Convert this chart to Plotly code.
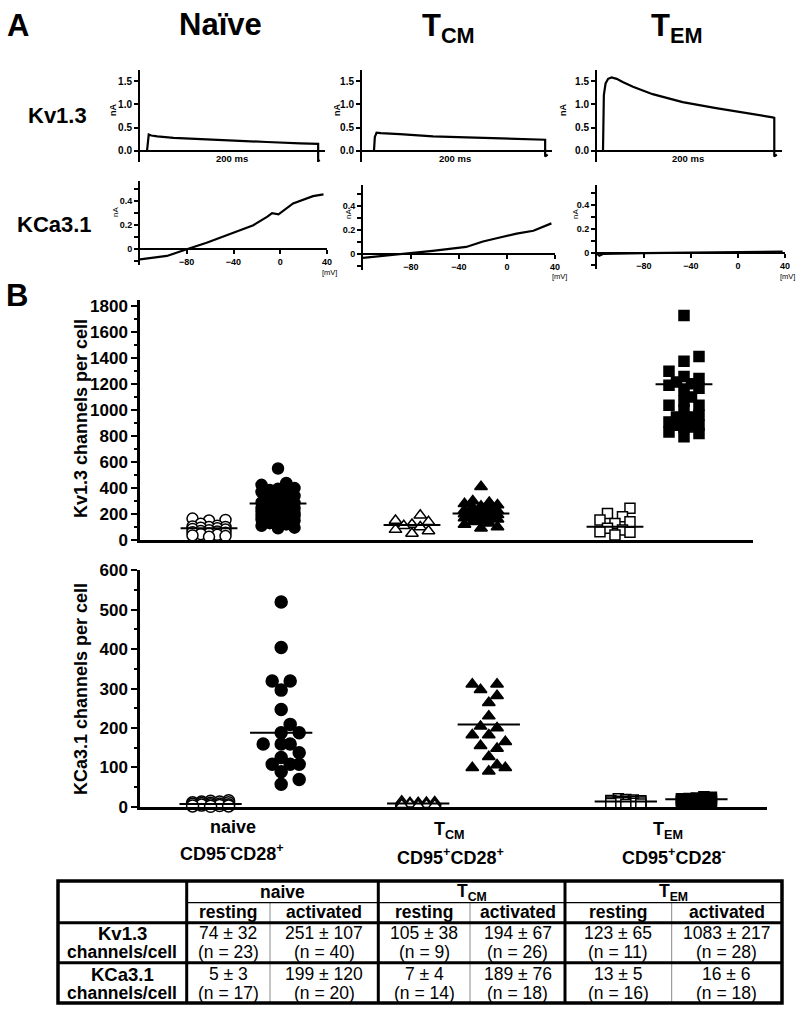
import plotly.graph_objects as go

# ---------------- DATA ----------------
# Panel A: Kv1.3 current traces (time in ms, current in nA)
kv_naive_t = [0, 1, 2, 5, 12, 31, 62, 101, 140, 179, 200, 200, 202]
kv_naive_i = [0, 0.28, 0.35, 0.33, 0.31, 0.28, 0.25, 0.22, 0.19, 0.16, 0.15, -0.22, -0.2]
kv_tcm_t = [0, 1, 3, 8, 30, 69, 108, 147, 185, 200, 200, 203]
kv_tcm_i = [0, 0.3, 0.39, 0.38, 0.36, 0.31, 0.29, 0.27, 0.25, 0.24, -0.12, -0.08]
kv_tem_t = [0, 1, 3, 6, 10, 16, 23, 35, 58, 93, 132, 171, 198, 200, 200, 203]
kv_tem_i = [0, 1.2, 1.45, 1.55, 1.58, 1.55, 1.48, 1.38, 1.22, 1.05, 0.92, 0.81, 0.72, 0.71, -0.12, -0.08]

# Panel A: KCa3.1 ramp currents (voltage in mV, current in nA)
kca_naive_v = [-120, -97, -80, -63, -43, -23, -11, -7, -1.5, 11, 28, 37]
kca_naive_i = [-0.083, -0.055, 0, 0.055, 0.127, 0.2, 0.27, 0.30, 0.29, 0.38, 0.44, 0.455]
kca_tcm_v = [-120, -105, -89, -62, -34, -20, -6, 8, 22, 30, 37]
kca_tcm_i = [-0.03, -0.015, -0.005, 0.028, 0.06, 0.105, 0.138, 0.17, 0.193, 0.226, 0.254]
kca_tem_v = [-120, -118, -115, -100, -80, -40, 0, 38]
kca_tem_i = [0.0, -0.02, -0.005, 0.0, 0.002, 0.005, 0.01, 0.015]

# Panel B: channels per cell
kv_naive_rest = [165, 155, 150, 125, 110, 105, 100, 100, 95, 90, 85, 80, 75, 70, 65, 60, 55, 50, 45, 40, 35, 30, 25]
kv_naive_act = [551, 440, 425, 400, 395, 385, 380, 370, 340, 330, 310, 300, 290, 285, 280, 270, 260, 250, 245, 240,
                230, 225, 220, 210, 205, 200, 195, 190, 185, 180, 175, 170, 160, 150, 140, 130, 120, 110, 95, 90]
kv_tcm_rest = [190, 150, 140, 120, 110, 100, 80, 70, 50]
kv_tcm_act = [410, 300, 290, 280, 270, 260, 250, 240, 230, 225, 220, 210, 205, 200, 195, 190, 180, 175, 170, 160,
              150, 140, 130, 120, 100, 90]
kv_tem_rest = [244, 205, 179, 154, 141, 128, 90, 77, 64, 59, 38]
kv_tem_act = [1731, 1415, 1377, 1300, 1260, 1244, 1218, 1205, 1192, 1170, 1154, 1103, 1070, 1038, 1038, 1000, 962,
              949, 949, 920, 910, 885, 885, 872, 872, 833, 821, 795]
kv_mean_line = [90, 282, 115, 205, 103, 1200]

kca_naive_rest = [15, 14, 12, 12, 10, 10, 9, 8, 7, 6, 5, 5, 4, 3, 2, 2, 1]
kca_naive_act = [520, 404, 319, 319, 296, 247, 209, 188, 188, 159, 159, 159, 137, 125, 108, 108, 108, 89, 69, 57]
kca_tcm_rest = [14, 12, 11, 10, 10, 9, 8, 8, 7, 6, 5, 5, 4, 3]
kca_tcm_act = [311, 311, 297, 282, 264, 230, 204, 200, 182, 182, 165, 155, 148, 127, 106, 99, 99, 90]
kca_tem_rest = [20, 18, 17, 16, 15, 14, 14, 13, 12, 12, 11, 10, 9, 8, 7, 6]
kca_tem_act = [25, 24, 22, 21, 20, 19, 18, 18, 17, 16, 16, 15, 14, 13, 12, 12, 11, 10]
kca_mean_line = [7, 188, 8, 209, 13, 19]

group_pos = [0.83, 1.17, 1.83, 2.17, 2.83, 3.17]

# Table
tbl_groups = ["naive", "T<sub>CM</sub>", "T<sub>EM</sub>"]
tbl_states = ["resting", "activated"]
tbl_kv_mean = [74, 251, 105, 194, 123, 1083]
tbl_kv_sd = [32, 107, 38, 67, 65, 217]
tbl_kv_n = [23, 40, 9, 26, 11, 28]
tbl_kca_mean = [5, 199, 7, 189, 13, 16]
tbl_kca_sd = [3, 120, 4, 76, 5, 6]
tbl_kca_n = [17, 20, 14, 18, 16, 18]

# ---------------- LAYOUT HELPERS ----------------
W, H = 800, 1012
FONT = "Liberation Sans, Arial, sans-serif"


def fx(p):
    return p / W


def fy(p):
    return 1 - p / H


fig = go.Figure()
layout = dict(width=W, height=H, margin=dict(l=0, r=0, t=0, b=0, pad=0, autoexpand=False), autosize=False,
              paper_bgcolor="white", plot_bgcolor="white", showlegend=False,
              font=dict(family=FONT, color="black"))
annotations = []
shapes = []


def ann(text, x, y, size, bold=True, angle=0, xanchor="center", yanchor="middle"):
    annotations.append(dict(text=("<b>%s</b>" % text) if bold else text, x=fx(x), y=fy(y),
                            xref="paper", yref="paper", showarrow=False, textangle=angle,
                            xanchor=xanchor, yanchor=yanchor,
                            font=dict(size=size, family=FONT, color="black")))


def zero_pos(dom, rng):
    return dom[0] + (0 - rng[0]) / (rng[1] - rng[0]) * (dom[1] - dom[0])


def small_axes(idx, xdom_px, ydom_px, xr, yr, kind):
    xd = [fx(xdom_px[0]), fx(xdom_px[1])]
    yd = [fy(ydom_px[1]), fy(ydom_px[0])]
    xa = dict(domain=xd, range=xr, anchor="free", position=zero_pos(yd, yr), showline=True,
              linewidth=2, linecolor="black", showgrid=False, zeroline=False, automargin=False)
    ya = dict(domain=yd, range=yr, anchor="x%d" % idx, showline=True, linewidth=2, linecolor="black",
              showgrid=False, zeroline=False, ticks="outside", ticklen=4, tickwidth=1.5, tickcolor="black",
              automargin=False)
    if kind == "kv":
        xa.update(showticklabels=False, ticks="")
        ya.update(tickvals=[0, 0.5, 1.0, 1.5], ticktext=["0.0", "0.5", "1.0", "1.5"],
                  tickfont=dict(size=10, family=FONT, weight="bold"))
    else:
        xa.update(tickvals=[-80, -40, 0, 40], ticks="outside", ticklen=4, tickwidth=1.5, tickcolor="black",
                  tickfont=dict(size=9, family=FONT, weight="bold"))
        ya.update(tickvals=[0, 0.2, 0.4], ticktext=["0", "0.2", "0.4"],
                  tickfont=dict(size=9, family=FONT, weight="bold"),
                  minor=dict(tickvals=[-0.1, 0.1, 0.3, 0.5], ticks="outside", ticklen=4, tickwidth=1.5,
                             tickcolor="black"))
    layout["xaxis%d" % idx] = xa
    layout["yaxis%d" % idx] = ya


# ---------------- PANEL A ----------------
kv_specs = [
    (1, (140, 325), (-8.2, 208), kv_naive_t, kv_naive_i),
    (2, (362, 552), (-14, 208), kv_tcm_t, kv_tcm_i),
    (3, (597, 782), (-7, 209), kv_tem_t, kv_tem_i),
]
for idx, xdom, xr, t, i in kv_specs:
    small_axes(idx, xdom, (70, 162), list(xr), [-0.24, 1.74], "kv")
    fig.add_trace(go.Scatter(x=t, y=i, mode="lines", line=dict(color="black", width=2.2),
                             xaxis="x%d" % idx, yaxis="y%d" % idx, hoverinfo="skip", cliponaxis=False))

kca_specs = [
    (4, (140, 327), (180.5, 265), kca_naive_v, kca_naive_i),
    (5, (363, 555), (185, 270), kca_tcm_v, kca_tcm_i),
    (6, (597, 785), (184.5, 269), kca_tem_v, kca_tem_i),
]
for idx, xdom, ydom, v, i in kca_specs:
    small_axes(idx, xdom, ydom, [-120, 40], [-0.13, 0.57], "kca")
    fig.add_trace(go.Scatter(x=v, y=i, mode="lines", line=dict(color="black", width=2.2),
                             xaxis="x%d" % idx, yaxis="y%d" % idx, hoverinfo="skip", cliponaxis=False))

ann("A", 18, 26, 31)
ann("Naïve", 220, 25, 31)
ann("T<sub>CM</sub>", 448, 28, 31)
ann("T<sub>EM</sub>", 676, 28, 31)
ann("Kv1.3", 58, 115, 22)
ann("KCa3.1", 54, 225, 22)
for x in (113, 337, 563):
    ann("nA", x, 110, 9, angle=-90)
for x, y in ((115, 212), (348, 214), (575, 214)):
    ann("nA", x, y, 8, bold=False, angle=-90)
for x in (232, 455, 688):
    ann("200 ms", x, 159, 9.5)
for x, y in ((329, 272), (559, 276), (787, 276)):
    ann("[mV]", x, y, 7.5, bold=False)

# ---------------- PANEL B ----------------
ann("B", 17, 295, 31)


def swarm(values, center, ppx, ppy, d, max_half):
    step = d * 0.75
    cands = [0.0]
    k = 1
    while k * step <= max_half:
        cands += [k * step, -k * step]
        k += 1
    order = sorted(range(len(values)), key=lambda j: values[j])
    placed = []
    out = [0.0] * len(values)
    for j in order:
        yv = values[j] * ppy
        best = None
        for c in cands:
            if all((c - a) ** 2 + (yv - b) ** 2 >= (d * 0.95) ** 2 for a, b in placed):
                best = c
                break
        if best is None:
            best = max(cands, key=lambda c: min((c - a) ** 2 + (yv - b) ** 2 for a, b in placed))
        placed.append((best, yv))
        out[j] = center + best / ppx
    return out


symbols = ["circle", "circle", "triangle-up", "triangle-up", "square", "square"]
fills = ["white", "black", "white", "black", "white", "black"]

scatter_specs = [
    (7, (140, 753), (300, 540), [0, 1850], 200, 100,
     [kv_naive_rest, kv_naive_act, kv_tcm_rest, kv_tcm_act, kv_tem_rest, kv_tem_act], kv_mean_line, 0.14,
     [11, 11, 11, 11, 10, 10], "Kv1.3 channels per cell", 419),
    (8, (140, 767), (570, 806.7), [0, 601], 100, 50,
     [kca_naive_rest, kca_naive_act, kca_tcm_rest, kca_tcm_act, kca_tem_rest, kca_tem_act], kca_mean_line, 0.15,
     [12, 12, 11, 11, 10, 10], "KCa3.1 channels per cell", 689),
]
xr_sc = [0.49, 3.51]
for idx, xdom, ydom, yr, dt, mdt, groups, means, halfw, sizes, title, title_y in scatter_specs:
    xd = [fx(xdom[0]), fx(xdom[1])]
    yd = [fy(ydom[1]), fy(ydom[0])]
    layout["xaxis%d" % idx] = dict(domain=xd, range=xr_sc, anchor="y%d" % idx, showline=True, linewidth=2.5,
                                   linecolor="black", showticklabels=False, ticks="", showgrid=False,
                                   zeroline=False, automargin=False)
    layout["yaxis%d" % idx] = dict(domain=yd, range=yr, anchor="x%d" % idx, showline=True, linewidth=2.5,
                                   linecolor="black", showgrid=False, zeroline=False, ticks="outside",
                                   ticklen=6, tickwidth=2, tickcolor="black", dtick=dt, tick0=0,
                                   automargin=False,
                                   tickfont=dict(size=17, family=FONT, weight="bold"),
                                   minor=dict(dtick=mdt, tick0=0, ticks="outside", ticklen=3, tickwidth=1.5,
                                              tickcolor="black"))
    ppx = (xdom[1] - xdom[0]) / (xr_sc[1] - xr_sc[0])
    ppy = (ydom[1] - ydom[0]) / (yr[1] - yr[0])
    for g, vals in enumerate(groups):
        xs = swarm(vals, group_pos[g], ppx, ppy, sizes[g], 20)
        fig.add_trace(go.Scatter(x=xs, y=vals, mode="markers", xaxis="x%d" % idx, yaxis="y%d" % idx,
                                 marker=dict(symbol=symbols[g], size=sizes[g], color=fills[g],
                                             line=dict(color="black", width=1.5)),
                                 cliponaxis=False, hoverinfo="skip"))
    lx, ly = [], []
    for g, m in enumerate(means):
        lx += [group_pos[g] - halfw, group_pos[g] + halfw, None]
        ly += [m, m, None]
    fig.add_trace(go.Scatter(x=lx, y=ly, mode="lines", line=dict(color="black", width=2),
                             xaxis="x%d" % idx, yaxis="y%d" % idx, cliponaxis=False, hoverinfo="skip"))
    ann(title, 81, title_y, 18, angle=-90)

# category labels under lower plot
ann("naive", 233, 827, 18)
ann("CD95<sup>-</sup>CD28<sup>+</sup>", 232, 852, 18)
ann("T<sub>CM</sub>", 449, 830, 18)
ann("CD95<sup>+</sup>CD28<sup>+</sup>", 450, 856, 18)
ann("T<sub>EM</sub>", 668, 830, 18)
ann("CD95<sup>+</sup>CD28<sup>-</sup>", 674, 856, 18)

# ---------------- TABLE ----------------
tx0, tx1 = 58, 782
ty0, ty1 = 881, 1003
col_thick = [186.7, 378.3, 565]
col_thin = [270, 470, 671.7]
row_thin = 902.7
row_thick = [922.7, 962.7]


def line(x0, y0, x1, y1, w, color="black"):
    shapes.append(dict(type="line", xref="paper", yref="paper", x0=fx(x0), y0=fy(y0), x1=fx(x1), y1=fy(y1),
                       line=dict(color=color, width=w)))


for x in col_thin:
    line(x, row_thin, x, ty1, 1, "#888888")
line(col_thick[0], row_thin, tx1, row_thin, 1.2)
for y in row_thick:
    line(tx0, y, tx1, y, 3)
for x in col_thick:
    line(x, ty0, x, ty1, 3)
shapes.append(dict(type="rect", xref="paper", yref="paper", x0=fx(tx0), y0=fy(ty1), x1=fx(tx1), y1=fy(ty0),
                   line=dict(color="black", width=3.5)))

bounds = [col_thick[0], col_thick[1], col_thick[2], tx1]
sub_bounds = [col_thick[0], col_thin[0], col_thick[1], col_thin[1], col_thick[2], col_thin[2], tx1]
for g, name in enumerate(tbl_groups):
    ann(name, (bounds[g] + bounds[g + 1]) / 2, 892, 17.5)
for c in range(6):
    xc = (sub_bounds[c] + sub_bounds[c + 1]) / 2
    ann(tbl_states[c % 2], xc, 912, 17.5)
    ann("%d ± %d" % (tbl_kv_mean[c], tbl_kv_sd[c]), xc, 933, 17.5, bold=False)
    ann("(n = %d)" % tbl_kv_n[c], xc, 952, 17.5, bold=False)
    ann("%d ± %d" % (tbl_kca_mean[c], tbl_kca_sd[c]), xc, 974, 17.5, bold=False)
    ann("(n = %d)" % tbl_kca_n[c], xc, 993, 17.5, bold=False)
lab_x = (tx0 + col_thick[0]) / 2
ann("Kv1.3", lab_x, 933, 18.5)
ann("channels/cell", lab_x, 952, 17.5)
ann("KCa3.1", lab_x, 974, 18.5)
ann("channels/cell", lab_x, 993, 17.5)

layout["annotations"] = annotations
layout["shapes"] = shapes
fig.update_layout(**layout)
fig.write_html("out.html", config={"displayModeBar": False},
               post_script="document.body.style.margin='0px';")
